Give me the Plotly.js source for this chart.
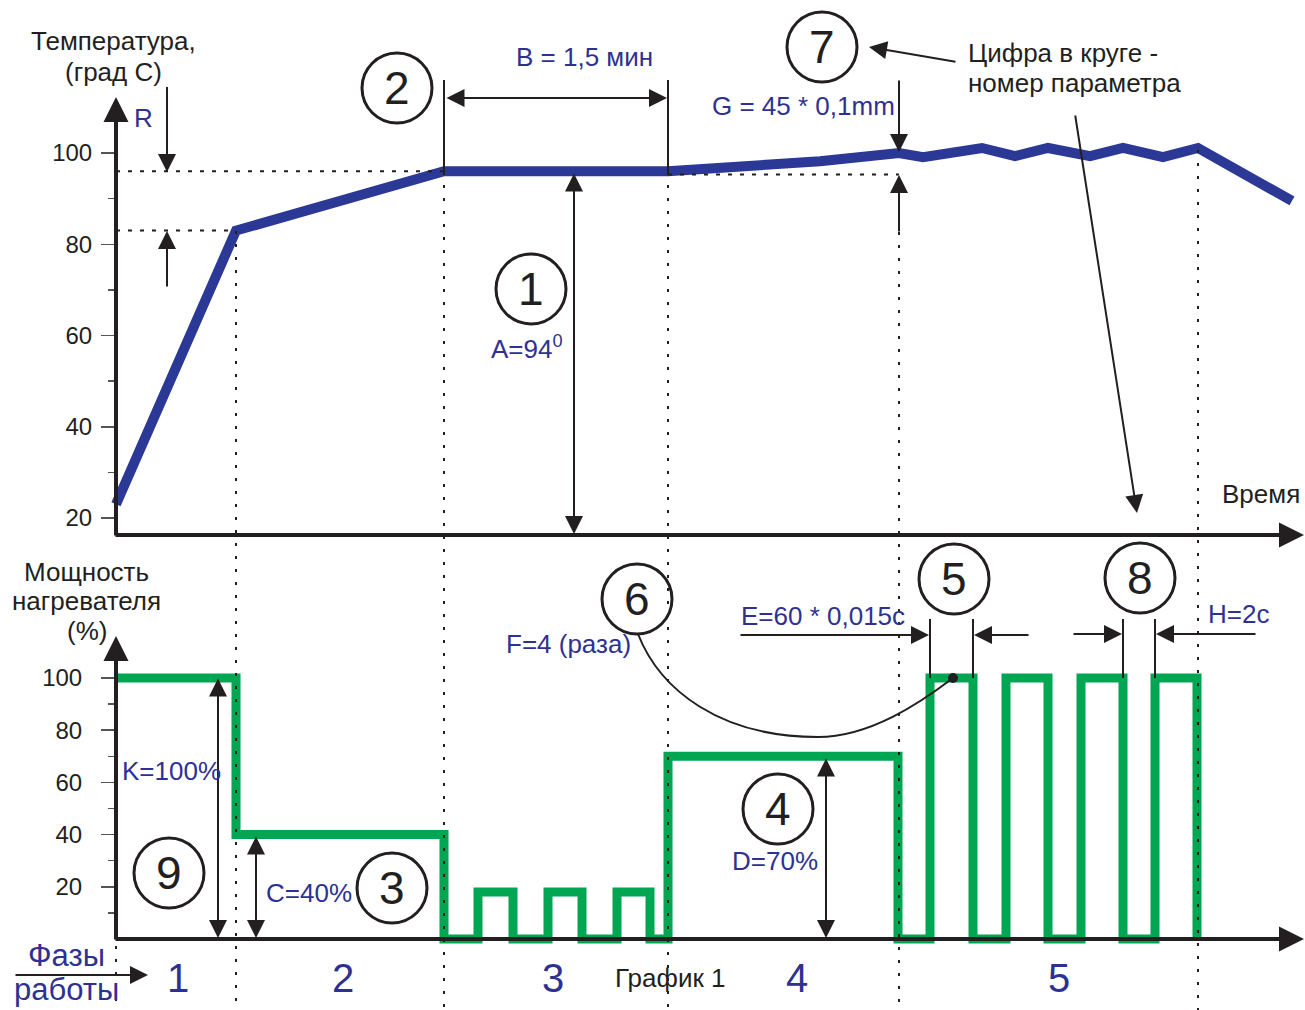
<!DOCTYPE html>
<html><head><meta charset="utf-8">
<script src="https://cdn.plot.ly/plotly-3.0.1.min.js"></script>
<style>html,body{margin:0;padding:0;background:#fff;}#chart{width:1305px;height:1010px;}</style>
</head><body><div id="chart"></div>
<script>
// ---------- DATA ----------
const tempTime  = [0, 12, 32.8, 55.2, 70.4, 78.3, 80.7, 86.6, 89.9, 93.2, 97.4, 100.7, 104.7, 108.2, 117.6];
const tempValue = [23, 83, 96, 96, 98.2, 100, 99.1, 101.1, 99.3, 101.1, 99.3, 101.1, 99.1, 101.1, 89.5];
const powerTime  = [0, 12, 32.8, 36.2, 39.7, 43.2, 46.6, 50.1, 53.4, 55.2, 78.2, 81.4, 85.7, 89.0, 93.2, 96.5, 100.7, 103.9, 108.1];
const powerValue = [100, 40, 0, 18, 0, 18, 0, 18, 0, 70, 0, 100, 0, 100, 0, 100, 0, 100, 0];
const tempTicks = [20, 40, 60, 80, 100];
const tempMinor = [30, 50, 70, 90];
const powerTicks = [20, 40, 60, 80, 100];
const powerMinor = [10, 30, 50, 70, 90];
const phaseBounds = [12, 32.8, 55.2, 78.3, 108.2];
const phaseLabels = ['1', '2', '3', '4', '5'];
const phaseLabelTime = [6.2, 22.7, 43.7, 68.1, 94.3];

// ---------- GEOMETRY HELPERS ----------
const W = 1305, H = 1010;
const X = v => v / W, Y = v => 1 - v / H;
const T0PX = 116, PXT = 10;            // time axis: px = 116 + 10*t
const tv = v => 20 + (518 - v) / 4.5625;   // top pixel -> temperature
const pv = v => (939 - v) / 2.61;          // bottom pixel -> power
const DARK = '#231f20', BLUE = '#2e3192', GREEN = '#00a651', LINEBLUE = '#2b3896';
const FONT = 'Liberation Sans, Arial, sans-serif';
const AX_HEAD = 1.25, DIM_HEAD = 1.8;

const shapes = [], ann = [];
function line(x0, y0, x1, y1, w, dash, color) {
  shapes.push({type: 'line', xref: 'paper', yref: 'paper', x0: X(x0), y0: Y(y0), x1: X(x1), y1: Y(y1),
    line: {color: color || DARK, width: w || 2, dash: dash || 'solid'}});
}
function circ(cx, cy, r, digit) {
  shapes.push({type: 'circle', xref: 'paper', yref: 'paper', x0: X(cx - r), x1: X(cx + r), y0: Y(cy + r), y1: Y(cy - r),
    line: {color: DARK, width: 3}});
  txt(cx, cy, digit, 46, DARK);
}
function txt(x, y, s, size, color, xanchor) {
  ann.push({xref: 'paper', yref: 'paper', x: X(x), y: Y(y), text: s, showarrow: false,
    xanchor: xanchor || 'center', yanchor: 'middle', font: {family: FONT, size: size, color: color}});
}
function arr(tx, ty, sx, sy, w, size, both) {
  ann.push({xref: 'paper', yref: 'paper', x: X(tx), y: Y(ty), ax: sx - tx, ay: sy - ty, text: '', showarrow: true,
    arrowhead: 2, arrowsize: size, arrowwidth: w, arrowcolor: DARK, standoff: 0, startstandoff: 0,
    startarrowhead: 2, startarrowsize: size, arrowside: both ? 'end+start' : 'end'});
}

// phase boundary dotted lines (data x)
const dotTop = [231, 172, 172, 232, 150];
phaseBounds.forEach((t, i) => {
  shapes.push({type: 'line', xref: 'x', yref: 'paper', x0: t, x1: t, y0: Y(dotTop[i]), y1: 0,
    line: {color: DARK, width: 2, dash: '3px,10px'}});
});
line(116, 946, 116, 1010, 2, '3px,10px');
// horizontal dotted
shapes.push({type: 'line', xref: 'x', yref: 'y', x0: 0, x1: tempTime[2], y0: tempValue[2], y1: tempValue[2], line: {color: DARK, width: 2, dash: '4px,8px'}});
shapes.push({type: 'line', xref: 'x', yref: 'y', x0: 0, x1: tempTime[1], y0: tempValue[1], y1: tempValue[1], line: {color: DARK, width: 2, dash: '4px,8px'}});
shapes.push({type: 'line', xref: 'x', yref: 'y', x0: tempTime[3], x1: 78.3, y0: 95.3, y1: 95.3, line: {color: DARK, width: 2, dash: '4px,8px'}});

// axes with arrows
arr(1305, 535, 114, 535, 4, AX_HEAD);
arr(116, 97, 116, 537, 4, AX_HEAD);
arr(1305, 939, 114, 939, 4, AX_HEAD);
arr(116, 636, 116, 941, 4, AX_HEAD);

// ---- top annotations ----
txt(113, 41, 'Температура,', 26, DARK);
txt(113, 72, '(град С)', 26, DARK);
txt(143, 118, 'R', 26, BLUE);
line(167, 87, 167, 171, 2); arr(167, 172, 167, 87, 2, DIM_HEAD);
arr(167, 231, 167, 288, 2, DIM_HEAD);
circ(397, 88, 35, '2');
line(444, 80, 444, 172, 2); line(668, 80, 668, 172, 2);
arr(667, 98, 445, 98, 2, DIM_HEAD, true);
txt(584, 57, 'B = 1,5 мин', 26, BLUE);
circ(822, 47, 35, '7');
arr(869, 47, 957, 62, 2, DIM_HEAD);
txt(966, 53, 'Цифра в круге -', 26, DARK, 'left');
txt(966, 83, 'номер параметра', 26, DARK, 'left');
arr(1137, 513, 1075, 114, 2, DIM_HEAD);
txt(803, 106, 'G = 45 * 0,1mm', 26, BLUE);
arr(899, 152, 899, 79, 2, DIM_HEAD);
arr(899, 175, 899, 233, 2, DIM_HEAD);
circ(531, 289, 35, '1');
txt(527, 347, 'A=94<sup>0</sup>', 26, BLUE);
arr(574, 534, 574, 172, 2, DIM_HEAD, true);
txt(1261, 494, 'Время', 26, DARK);

// ---- bottom annotations ----
txt(86, 572, 'Мощность', 26, DARK);
txt(86, 601, 'нагревателя', 26, DARK);
txt(87, 631, '(%)', 26, DARK);
arr(218, 938, 218, 677, 2, DIM_HEAD, true);
txt(120, 771, 'K=100%', 26, BLUE, 'left');
circ(169, 873, 35, '9');
arr(256, 938, 256, 835, 2, DIM_HEAD, true);
txt(264, 893, 'C=40%', 26, BLUE, 'left');
circ(392, 888, 35, '3');
circ(637, 599, 35, '6');
txt(568, 644, 'F=4 (раза)', 26, BLUE);
shapes.push({type: 'path', xref: 'paper', yref: 'paper',
  path: `M ${X(638)},${Y(634)} C ${X(660)},${Y(690)} ${X(720)},${Y(737)} ${X(818)},${Y(737)} C ${X(870)},${Y(737)} ${X(920)},${Y(703)} ${X(953)},${Y(678)}`,
  line: {color: DARK, width: 2}});
shapes.push({type: 'circle', xref: 'paper', yref: 'paper', x0: X(948), x1: X(958), y0: Y(683), y1: Y(673), fillcolor: DARK, line: {width: 0}});
circ(778, 809, 35, '4');
txt(775, 861, 'D=70%', 26, BLUE);
arr(826, 938, 826, 757, 2, DIM_HEAD, true);
circ(954, 579, 35, '5');
circ(1140, 578, 35, '8');
txt(739, 616, 'E=60 * 0,015c', 26, BLUE, 'left');
arr(929, 635, 739, 635, 2, DIM_HEAD);
arr(974, 635, 1030, 635, 2, DIM_HEAD);
line(930, 619, 930, 678, 2); line(973, 619, 973, 678, 2);
arr(1122, 634, 1072, 634, 2, DIM_HEAD);
arr(1156, 634, 1257, 634, 2, DIM_HEAD);
line(1123, 619, 1123, 678, 2); line(1155, 619, 1155, 678, 2);
txt(1238, 614, 'H=2c', 26, BLUE);
txt(670, 978, 'График 1', 26, DARK);
phaseLabels.forEach((s, i) => {
  ann.push({xref: 'x', yref: 'paper', x: phaseLabelTime[i], y: Y(978), text: s, showarrow: false,
    xanchor: 'center', yanchor: 'middle', font: {family: FONT, size: 40, color: BLUE}});
});
txt(66, 955, 'Фазы', 31, BLUE);
txt(66, 989, 'работы', 31, BLUE);
arr(148, 975, 14, 975, 2, DIM_HEAD);

const data = [
  {x: tempTime, y: tempValue, xaxis: 'x', yaxis: 'y', mode: 'lines', line: {color: LINEBLUE, width: 10}, hoverinfo: 'skip'},
  {x: powerTime, y: powerValue, xaxis: 'x', yaxis: 'y2', mode: 'lines', line: {color: GREEN, width: 9, shape: 'hv'}, hoverinfo: 'skip'}
];

const layout = {
  width: W, height: H, margin: {l: 0, r: 0, t: 0, b: 0}, showlegend: false,
  paper_bgcolor: '#fff', plot_bgcolor: 'rgba(0,0,0,0)',
  font: {family: FONT, color: DARK},
  xaxis: {domain: [0, 1], range: [(0 - T0PX) / PXT, (W - T0PX) / PXT], showgrid: false, zeroline: false,
    showticklabels: false, ticks: '', showline: false, fixedrange: true},
  yaxis: {domain: [Y(545), Y(90)], range: [tv(545), tv(90)], anchor: 'free', position: X(116),
    tickmode: 'array', tickvals: tempTicks, ticktext: tempTicks.map(String), ticks: 'outside', ticklen: 15,
    tickwidth: 1.5, tickcolor: '#555', tickfont: {size: 24, color: DARK, family: FONT}, ticklabelstandoff: 4,
    minor: {tickmode: 'array', tickvals: tempMinor, ticks: 'outside', ticklen: 8, tickwidth: 1.5, tickcolor: '#555'},
    showgrid: false, zeroline: false, showline: false, fixedrange: true},
  yaxis2: {domain: [Y(990), Y(630)], range: [pv(990), pv(630)], anchor: 'free', position: X(116),
    tickmode: 'array', tickvals: powerTicks, ticktext: powerTicks.map(String), ticks: 'outside', ticklen: 15,
    tickwidth: 1.5, tickcolor: '#555', tickfont: {size: 24, color: DARK, family: FONT}, ticklabelstandoff: 14,
    minor: {tickmode: 'array', tickvals: powerMinor, ticks: 'outside', ticklen: 8, tickwidth: 1.5, tickcolor: '#555'},
    showgrid: false, zeroline: false, showline: false, fixedrange: true},
  shapes: shapes, annotations: ann
};
Plotly.newPlot('chart', data, layout, {displayModeBar: false, staticPlot: true});
</script></body></html>
